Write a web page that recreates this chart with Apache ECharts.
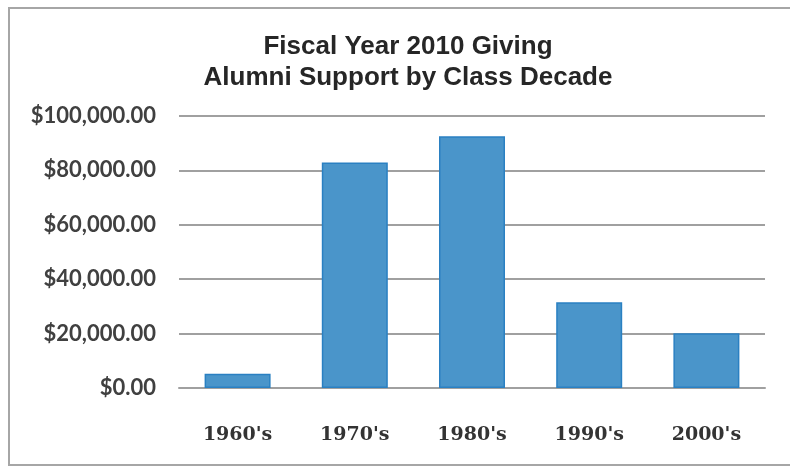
<!DOCTYPE html>
<html>
<head>
<meta charset="utf-8">
<script src="https://cdn.jsdelivr.net/npm/echarts@6/dist/echarts.min.js"></script>
<style>
html,body{margin:0;padding:0;background:#fff;}
#chart{width:790px;height:468px;}
</style>
</head>
<body>
<div id="chart"></div>
<script>
const titleLines = ["Fiscal Year 2010 Giving", "Alumni Support by Class Decade"];
const categories = ["1960's", "1970's", "1980's", "1990's", "2000's"];
const giving = [5200, 82900, 92600, 31500, 20100];
const yTicks = { min: 0, max: 100000, interval: 20000 };

const chart = echarts.init(document.getElementById('chart'), null, { renderer: 'canvas' });
chart.setOption({
  backgroundColor: '#fff',
  animation: false,
  title: {
    text: titleLines.join('\n'),
    left: 403,
    textAlign: 'center',
    top: 26,
    textStyle: {
      fontFamily: 'Liberation Sans, Arial, sans-serif',
      fontWeight: 'bold',
      fontSize: 26,
      lineHeight: 31,
      color: '#262626'
    }
  },
  graphic: [{
    type: 'rect',
    shape: { x: 9, y: 8, width: 800, height: 457 },
    style: { fill: 'none', stroke: '#a6a6a6', lineWidth: 2 },
    silent: true, z: -1
  }],
  grid: { left: 179, right: 25, top: 116, bottom: 80, containLabel: false },
  xAxis: {
    type: 'category',
    data: categories,
    axisLine: { show: true, lineStyle: { color: '#a0a0a0', width: 2 } },
    axisTick: { show: false },
    axisLabel: {
      margin: 38,
      fontFamily: 'DejaVu Serif, serif',
      fontWeight: 'bold',
      fontSize: 19,
      color: '#333'
    }
  },
  yAxis: {
    type: 'value',
    min: yTicks.min, max: yTicks.max, interval: yTicks.interval,
    axisLine: { show: false },
    axisTick: { show: false },
    splitLine: { lineStyle: { color: '#a0a0a0', width: 2 } },
    axisLabel: {
      margin: 23,
      fontFamily: 'Lato, sans-serif',
      fontWeight: 'bold',
      fontSize: 22,
      color: '#404040',
      formatter: v => '$' + v.toLocaleString('en-US', { minimumFractionDigits: 2, maximumFractionDigits: 2 })
    }
  },
  series: [{
    type: 'bar',
    data: giving,
    barWidth: 66,
    itemStyle: { color: '#4a95ca', borderColor: '#2a80c2', borderWidth: 1.5 }
  }]
});
</script>
</body>
</html>
